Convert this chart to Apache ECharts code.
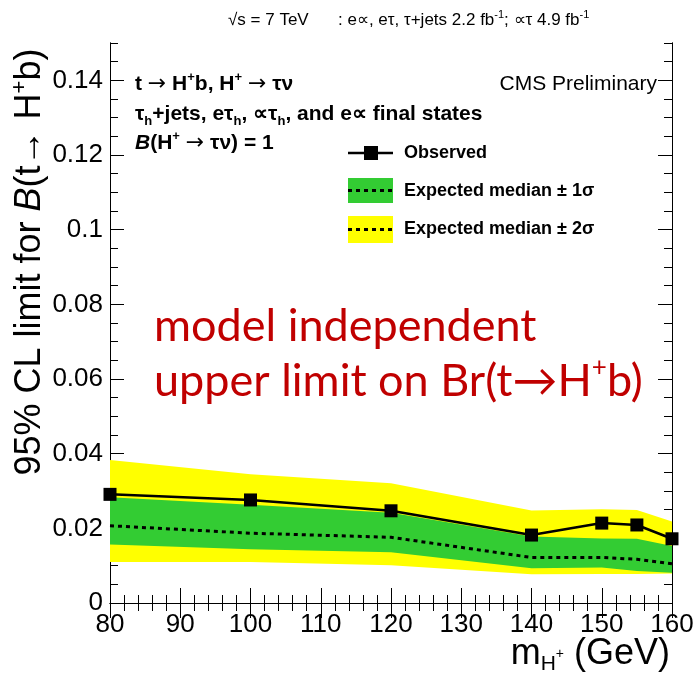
<!DOCTYPE html>
<html>
<head>
<meta charset="utf-8">
<script src="https://cdn.jsdelivr.net/npm/echarts@6.0.0/dist/echarts.min.js"></script>
<style>
  html, body { margin: 0; padding: 0; background: #fff; }
  #chart { width: 698px; height: 678px; }
</style>
</head>
<body>
<div id="chart"></div>
<script>
// Charged Higgs mass points (GeV)
const massPoints = [80, 100, 120, 140, 150, 155, 160];
// Observed 95% CL upper limit on B(t -> H+ b)
const observed   = [0.0291, 0.0276, 0.0247, 0.0182, 0.0214, 0.0209, 0.0172];
// Expected median and the +-1 sigma / +-2 sigma bands
const expMedian  = [0.0207, 0.0187, 0.0176, 0.0122, 0.0122, 0.0117, 0.0105];
const exp1SigLo  = [0.0157, 0.0144, 0.0136, 0.0093, 0.0095, 0.0086, 0.0081];
const exp1SigHi  = [0.0283, 0.0263, 0.0242, 0.0178, 0.0173, 0.0172, 0.0153];
const exp2SigLo  = [0.0110, 0.0110, 0.0101, 0.0077, 0.0078, 0.0078, 0.0079];
const exp2SigHi  = [0.0383, 0.0345, 0.0321, 0.0248, 0.0251, 0.0249, 0.0218];
// Labelled tick values
const xTickValues = [80, 90, 100, 110, 120, 130, 140, 150, 160];
const yTickValues = [0, 0.02, 0.04, 0.06, 0.08, 0.1, 0.12, 0.14];

const FAMILY = '"Liberation Sans", Arial, Helvetica, sans-serif';
const RED_FAMILY = 'Lato, "Open Sans", sans-serif';
const YELLOW = '#ffff00';
const GREEN = '#33cc33';

function txt(size, weight, style, extra) {
  return Object.assign({
    fontSize: size, fontFamily: FAMILY, fontWeight: weight || 'normal',
    fontStyle: style || 'normal', fill: '#000'
  }, extra || {});
}

const pairs = (ys) => massPoints.map((m, i) => [m, ys[i]]);

// Filled band between a lower and an upper curve, drawn as one polygon
function bandSeries(name, lo, hi, color) {
  return {
    name, type: 'custom', silent: true, z: 1,
    data: massPoints.map((m, i) => [m, lo[i], hi[i]]),
    encode: { x: 0, y: [1, 2] },
    renderItem: (params, api) => {
      if (params.dataIndex !== 0) return { type: 'group', children: [] };
      const upper = massPoints.map((m, i) => api.coord([m, hi[i]]));
      const lower = massPoints.map((m, i) => api.coord([m, lo[i]])).reverse();
      return {
        type: 'polygon',
        shape: { points: upper.concat(lower) },
        style: { fill: color, stroke: null }
      };
    }
  };
}

const chart = echarts.init(document.getElementById('chart'), null, { renderer: 'canvas' });

const xBase = {
  type: 'value', min: 80, max: 160, interval: 10,
  axisLine: { lineStyle: { color: '#000', width: 1 } },
  axisTick: { inside: true, length: 15, lineStyle: { color: '#000', width: 1 } },
  minorTick: { show: true, splitNumber: 5, length: 8, lineStyle: { color: '#000', width: 1 } },
  splitLine: { show: false }
};
const yBase = {
  type: 'value', min: 0, max: 0.15,
  axisLine: { show: true, lineStyle: { color: '#000', width: 1 } },
  splitLine: { show: false }
};

// rich-text pieces shared by the bold description lines
const boldRich = {
  sup: txt(13, 'bold', 'normal', { verticalAlign: 'top', lineHeight: 14 }),
  sub: txt(13, 'bold', 'normal', { verticalAlign: 'bottom', lineHeight: 14 }),
  it: txt(21, 'bold', 'italic'),
  ar: { fontSize: 22, fontFamily: '"DejaVu Sans", sans-serif', fontWeight: 'normal', fill: '#000' }
};

const option = {
  animation: false,
  backgroundColor: '#fff',
  grid: { left: 110, right: 26, top: 43, bottom: 75, containLabel: false },
  xAxis: [
    Object.assign({}, xBase, {
      position: 'bottom',
      axisLabel: { fontSize: 26, fontFamily: FAMILY, color: '#000', margin: 9,
                   customValues: xTickValues }
    }),
    Object.assign({}, xBase, { position: 'top', axisLabel: { show: false } })
  ],
  yAxis: [
    // minor ticks, left
    Object.assign({}, yBase, {
      position: 'left', interval: 0.005,
      axisTick: { inside: true, length: 8, lineStyle: { color: '#000' } },
      axisLabel: { show: false }
    }),
    // major ticks with labels, left
    Object.assign({}, yBase, {
      position: 'left',
      axisTick: { inside: true, length: 14, customValues: yTickValues, lineStyle: { color: '#000' } },
      axisLabel: { fontSize: 26, fontFamily: FAMILY, color: '#000', margin: 7,
                   customValues: yTickValues, formatter: (v) => String(v) }
    }),
    // minor ticks, right
    Object.assign({}, yBase, {
      position: 'right', interval: 0.005,
      axisTick: { inside: true, length: 8, lineStyle: { color: '#000' } },
      axisLabel: { show: false }
    }),
    // major ticks, right
    Object.assign({}, yBase, {
      position: 'right',
      axisTick: { inside: true, length: 14, customValues: yTickValues, lineStyle: { color: '#000' } },
      axisLabel: { show: false }
    })
  ],
  series: [
    bandSeries('Expected median ± 2σ', exp2SigLo, exp2SigHi, YELLOW),
    bandSeries('Expected median ± 1σ', exp1SigLo, exp1SigHi, GREEN),
    {
      name: 'Expected median', type: 'line', data: pairs(expMedian), symbol: 'none',
      lineStyle: { color: '#000', width: 3, type: [4, 4], cap: 'butt' }, z: 3
    },
    {
      name: 'Observed', type: 'line', data: pairs(observed),
      symbol: 'rect', symbolSize: 13, itemStyle: { color: '#000' },
      lineStyle: { color: '#000', width: 2.5 }, z: 4
    }
  ],
  graphic: [
    // centre-of-mass energy and luminosity line above the frame
    { type: 'text', x: 228, y: 20, style: Object.assign(txt(17), {
        text: '√s = 7 TeV', verticalAlign: 'middle' }) },
    { type: 'text', x: 338, y: 20, style: Object.assign(txt(17), {
        text: ': e∝, eτ, τ+jets 2.2 fb{sup|-1}; ∝τ 4.9 fb{sup|-1}', verticalAlign: 'middle',
        lineHeight: 22, rich: { sup: txt(11, 'normal', 'normal', { verticalAlign: 'top', lineHeight: 12 }) } }) },
    // process description
    { type: 'text', x: 135, y: 84, style: Object.assign(txt(21, 'bold'), {
        text: 't {ar|→} H{sup|+}b, H{sup|+} {ar|→} τν', verticalAlign: 'middle', lineHeight: 26,
        rich: boldRich }) },
    { type: 'text', x: 135, y: 114, style: Object.assign(txt(21, 'bold'), {
        text: 'τ{sub|h}+jets, eτ{sub|h}, ∝τ{sub|h}, and e∝ final states', verticalAlign: 'middle', lineHeight: 28,
        rich: boldRich }) },
    { type: 'text', x: 135, y: 143, style: Object.assign(txt(21, 'bold'), {
        text: '{it|B}(H{sup|+} {ar|→} τν) = 1', verticalAlign: 'middle', lineHeight: 26,
        rich: boldRich }) },
    { type: 'text', x: 657, y: 84, style: Object.assign(txt(21), {
        text: 'CMS Preliminary', align: 'right', verticalAlign: 'middle' }) },
    // legend
    { type: 'line', shape: { x1: 348, y1: 153, x2: 393, y2: 153 }, style: { stroke: '#000', lineWidth: 2.5 } },
    { type: 'rect', shape: { x: 364, y: 146, width: 14, height: 14 }, style: { fill: '#000' } },
    { type: 'text', x: 404, y: 153, style: Object.assign(txt(18, 'bold'), { text: 'Observed', verticalAlign: 'middle' }) },
    { type: 'rect', shape: { x: 348, y: 178, width: 45, height: 25 }, style: { fill: GREEN } },
    { type: 'line', shape: { x1: 348, y1: 190.5, x2: 393, y2: 190.5 },
      style: { stroke: '#000', lineWidth: 3, lineDash: [4, 4] } },
    { type: 'text', x: 404, y: 191, style: Object.assign(txt(18, 'bold'), {
        text: 'Expected median ± 1σ', verticalAlign: 'middle' }) },
    { type: 'rect', shape: { x: 348, y: 216, width: 45, height: 27 }, style: { fill: YELLOW } },
    { type: 'line', shape: { x1: 348, y1: 229.5, x2: 393, y2: 229.5 },
      style: { stroke: '#000', lineWidth: 3, lineDash: [4, 4] } },
    { type: 'text', x: 404, y: 229, style: Object.assign(txt(18, 'bold'), {
        text: 'Expected median ± 2σ', verticalAlign: 'middle' }) },
    // red annotation
    { type: 'text', x: 154, y: 326, style: {
        text: 'model independent', fontSize: 45, fontFamily: RED_FAMILY,
        fill: '#c00000', verticalAlign: 'middle' } },
    { type: 'text', x: 154, y: 381, style: {
        text: 'upper limit on Br(t→H{sup|+}b)', fontSize: 45, fontFamily: RED_FAMILY,
        fill: '#c00000', verticalAlign: 'middle', lineHeight: 52,
        rich: { sup: { fontSize: 26, fontFamily: RED_FAMILY, fill: '#c00000',
                       verticalAlign: 'top', lineHeight: 30 } } } },
    // y-axis title
    { type: 'text', x: 30, y: 262, rotation: Math.PI / 2, style: Object.assign(txt(36), {
        text: '95% CL limit for {it|B}(t→ H{sup|+}b)', align: 'center', verticalAlign: 'middle', lineHeight: 42,
        rich: { it: txt(36, 'normal', 'italic'),
                sup: txt(22, 'normal', 'normal', { verticalAlign: 'top', lineHeight: 24 }) } }) },
    // x-axis title
    { type: 'text', x: 670, y: 654, style: Object.assign(txt(36), {
        text: 'm{sub|H}{subsup|+} (GeV)', align: 'right', verticalAlign: 'middle', lineHeight: 42,
        rich: { sub: txt(21, 'normal', 'normal', { verticalAlign: 'bottom', lineHeight: 22 }),
                subsup: txt(14, 'normal', 'normal', { verticalAlign: 'middle', lineHeight: 14 }) } }) }
  ]
};

chart.setOption(option);
</script>
</body>
</html>
